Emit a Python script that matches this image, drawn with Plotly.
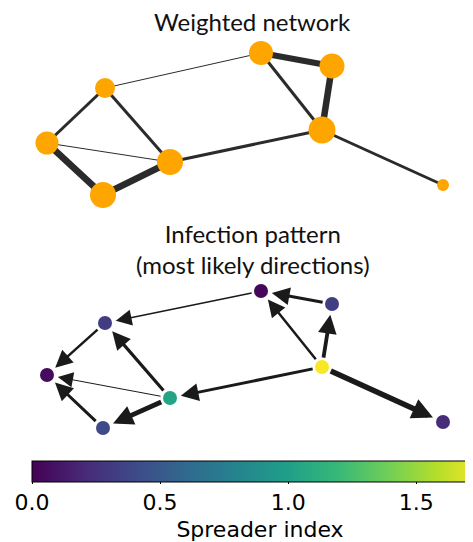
import plotly.graph_objects as go

# ---- data ----
node_names = ["A", "B", "C", "D", "E", "F", "G", "H"]
node_x = [105, 47, 103, 170, 261, 332, 322, 443]
node_y_top = [88, 143, 195, 162, 53, 66, 130, 185]
node_y_bottom = [323, 375, 428, 398, 291, 304, 367, 422]
node_size_top = [20, 23, 26, 26, 24, 25, 27, 12]

edges = [("A", "E"), ("B", "D"), ("A", "B"), ("A", "D"), ("B", "C"), ("C", "D"),
         ("D", "G"), ("E", "F"), ("E", "G"), ("F", "G"), ("G", "H")]
edge_weight = [1, 1, 3, 3, 6.5, 6.5, 3, 6, 3, 6.5, 3]

arrows_src = ["E", "F", "G", "G", "G", "G", "D", "D", "D", "A", "C"]
arrows_dst = ["A", "E", "E", "F", "D", "H", "A", "B", "C", "B", "B"]
arrow_weight = [1.5, 3, 2.5, 3.8, 3, 5.5, 3.2, 1, 4.8, 2.5, 3]

spreader_index = [0.32, 0.05, 0.40, 1.04, 0.03, 0.33, 1.77, 0.22]

cbar_ticks = [0.0, 0.5, 1.0, 1.5]
cmin, cmax = 0.0, 1.78

idx = {n: i for i, n in enumerate(node_names)}
# the page body has an 8px margin: figure is sized to fit the window and axes are offset accordingly
OFF = 8
W, H = 473 - OFF, 542 - OFF

fig = go.Figure()

# top weighted network edges
for (a, b), w in zip(edges, edge_weight):
    i, j = idx[a], idx[b]
    fig.add_trace(go.Scatter(x=[node_x[i], node_x[j]], y=[node_y_top[i], node_y_top[j]],
                             mode="lines", line=dict(color="#2b2b2b", width=w),
                             hoverinfo="skip", showlegend=False))
fig.add_trace(go.Scatter(x=node_x, y=node_y_top, mode="markers",
                         marker=dict(color="#ffa500", size=node_size_top, opacity=1, line=dict(width=0)),
                         showlegend=False, text=node_names))

# bottom nodes
fig.add_trace(go.Scatter(x=node_x, y=node_y_bottom, mode="markers",
                         marker=dict(color=spreader_index, colorscale="Viridis", cmin=cmin, cmax=cmax,
                                     size=14, opacity=1, line=dict(width=0),
                                     colorbar=dict(orientation="h", xref="container", yref="container",
                                                   x=(32 - OFF) / W, xanchor="left",
                                                   y=1 - (461 - OFF) / H, yanchor="top",
                                                   lenmode="pixels", len=cmax * 256, thickness=21,
                                                   xpad=0, ypad=0, outlinewidth=1, outlinecolor="black",
                                                   tickvals=cbar_ticks, ticktext=[f"{t:.1f}" for t in cbar_ticks],
                                                   ticks="outside", ticklen=2, tickcolor="black",
                                                   tickfont=dict(family="DejaVu Sans", size=22, color="black"),
                                                   title=dict(text="Spreader index", side="bottom",
                                                              font=dict(family="DejaVu Sans", size=22, color="black")))),
                         showlegend=False, text=node_names))

annotations = []
for s, d, w in zip(arrows_src, arrows_dst, arrow_weight):
    i, j = idx[s], idx[d]
    head = 2.8 + 0.25 * w
    annotations.append(dict(x=node_x[j], y=node_y_bottom[j], ax=node_x[i], ay=node_y_bottom[i],
                            xref="x", yref="y", axref="x", ayref="y", text="",
                            showarrow=True, arrowhead=2, arrowwidth=w, arrowsize=head / w,
                            arrowcolor="#1a1a1a", standoff=11, startstandoff=8))

annotations.append(dict(x=252, y=21, xref="x", yref="y", text="Weighted network", showarrow=False,
                        font=dict(family="Lato", size=24, color="#111111")))
annotations.append(dict(x=253, y=249, xref="x", yref="y", text="Infection pattern<br>(most likely directions)",
                        showarrow=False, font=dict(family="Lato", size=24, color="#111111")))

fig.update_layout(width=W, height=H, margin=dict(l=0, r=0, t=0, b=0, pad=0, autoexpand=False),
                  plot_bgcolor="white", paper_bgcolor="white", annotations=annotations,
                  xaxis=dict(range=[OFF, OFF + W], visible=False, fixedrange=True),
                  yaxis=dict(range=[OFF + H, OFF], visible=False, fixedrange=True),
                  showlegend=False)

fig.write_html("out.html")
